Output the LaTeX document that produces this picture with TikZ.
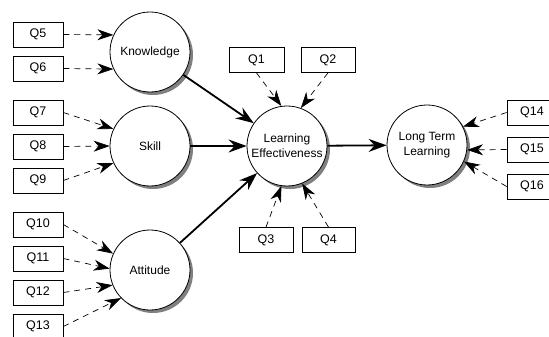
\documentclass[tikz,border=0pt]{standalone}
\usepackage{fontspec}
\setmainfont{Liberation Sans}
\usepackage{tikz}
\usetikzlibrary{shapes,arrows.meta,positioning}

\begin{document}
\begin{tikzpicture}[x=1pt, y=-1pt, node distance=34pt, auto, font=\fontsize{12}{15}\selectfont]
\tikzstyle{latent} = [circle, draw, line width=0.8pt, fill=white, minimum size=80pt, inner sep=0pt, align=center, preaction={fill=black!50, transform canvas={xshift=3pt, yshift=-3pt}}]
\tikzstyle{item} = [rectangle, draw, line width=0.7pt, fill=white, minimum width=50pt, minimum height=25pt, inner sep=0pt, font=\fontsize{12.5}{14}\selectfont]
\tikzstyle{line} = [draw, line width=1.8pt, -{Stealth[length=18pt, width=13pt, inset=6pt]}]
\tikzstyle{dline} = [draw, line width=0.7pt, dash pattern=on 6pt off 5pt, -{Stealth[length=16pt, width=11pt, inset=5pt]}]

\useasboundingbox (0,0) rectangle (549,337);

% constructs
\node [latent] (know) at (150,52) {Knowledge};
\node [latent] (skill) at (150,146) {Skill};
\node [latent] (att) at (150,270) {Attitude};
\node [latent] (le) at (287,146) {Learning\\Effectiveness};
\node [latent] (ltl) at (427,145) {Long Term\\Learning};

% items, left column
\node [item] (q5) at (38,34.5) {Q5};
\node [item, below of=q5] (q6) {Q6};
\node [item, below of=q6, yshift=-10pt] (q7) {Q7};
\node [item, below of=q7] (q8) {Q8};
\node [item, below of=q8] (q9) {Q9};
\node [item, below of=q9, yshift=-10pt] (q10) {Q10};
\node [item, below of=q10] (q11) {Q11};
\node [item, below of=q11] (q12) {Q12};
\node [item, below of=q12] (q13) {Q13};

% items round learning effectiveness
\node [item, minimum width=55pt] (q1) at (256.5,60) {Q1};
\node [item, minimum width=54pt] (q2) at (328,60) {Q2};
\node [item, minimum width=54pt] (q3) at (266,240) {Q3};
\node [item, minimum width=53pt] (q4) at (328.5,240) {Q4};

% items, right column
\node [item] (q14) at (532,112.5) {Q14};
\node [item, node distance=37pt, below of=q14] (q15) {Q15};
\node [item, node distance=37pt, below of=q15] (q16) {Q16};

\path [line] (know) -- (le);
\path [line] (skill) -- (le);
\path [line] (att) -- (le);
\path [line] (le) -- (ltl);

\path [dline] (q5.east) -- (know.155);
\path [dline] (q6.east) -- (know.205);
\path [dline] (q7.east) -- (skill.155);
\path [dline] (q8.east) -- (skill.west);
\path [dline] (q9.east) -- (skill.205);
\path [dline] (q10.east) -- (att.156);
\path [dline] (q11.east) -- (att.178);
\path [dline] (q12.east) -- (att.202);
\path [dline] (q13.east) -- (att.224);
\path [dline] (q1.south) -- (le.98);
\path [dline] (q2.south) -- (le.70);
\path [dline] (q3.north) -- (le.262);
\path [dline] (q4.north) -- (le.292);
\path [dline] (q14.west) -- (ltl.27);
\path [dline] (q15.west) -- (ltl.-7);
\path [dline] (q16.west) -- (ltl.-24);

\end{tikzpicture}
\end{document}
